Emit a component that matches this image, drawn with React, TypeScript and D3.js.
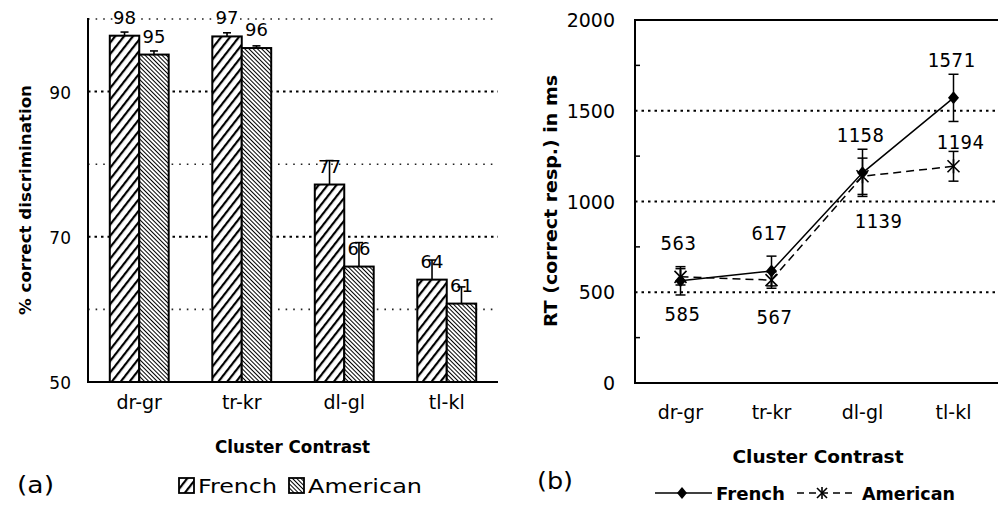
import React from 'react';
import * as d3 from 'd3';

const categories = ['dr-gr', 'tr-kr', 'dl-gl', 'tl-kl'];
const groups = ['French', 'American'];

// Panel (a): % correct discrimination
const accFrench = [97.7, 97.6, 77.2, 64.1];
const accAmerican = [95.1, 96.0, 65.9, 60.8];
const accFrenchErr = [0.5, 0.5, 3.3, 2.7];
const accAmericanErr = [0.5, 0.3, 3.3, 2.3];
const accFrenchLabels = ['98', '97', '77', '64'];
const accAmericanLabels = ['95', '96', '66', '61'];
const accGrid = [60, 70, 80, 90, 100];
const accDarkGrid = [70, 90];
const accTickLabels = [50, 70, 90];

// Panel (b): RT in ms
const rtFrench = [563, 617, 1158, 1571];
const rtAmerican = [585, 567, 1139, 1194];
const rtFrenchErr = [78, 82, 130, 130];
const rtAmericanErr = [45, 45, 100, 82];
const rtFrenchLabels = ['563', '617', '1158', '1571'];
const rtAmericanLabels = ['585', '567', '1139', '1194'];
const rtTicks = [0, 500, 1000, 1500, 2000];
const rtGrid = [500, 1000, 1500];
const rtMinor = [250, 750, 1250, 1750];

const SANS = 'DejaVu Sans, Verdana, sans-serif';
const MONO = 'DejaVu Sans Mono, monospace';

function Diamond({ x, y, w = 5.5, h = 6.5 }: { x: number; y: number; w?: number; h?: number }) {
  return <path d={`M${x},${y - h}L${x + w},${y}L${x},${y + h}L${x - w},${y}Z`} fill="#000" />;
}

function Star({ x, y, s = 6 }: { x: number; y: number; s?: number }) {
  return (
    <g stroke="#000" strokeWidth={1.6}>
      <line x1={x - s} y1={y - s} x2={x + s} y2={y + s} />
      <line x1={x - s} y1={y + s} x2={x + s} y2={y - s} />
      <line x1={x} y1={y - s - 1} x2={x} y2={y + s + 1} />
    </g>
  );
}

export default function App() {
  // ---------- Panel (a) ----------
  const yL = d3.scaleLinear().domain([50, 100]).range([382, 19]);
  const xL = d3.scaleBand().domain(categories).range([88, 498]);
  const xSub = d3.scaleBand().domain(groups).range([0, xL.bandwidth()]).paddingOuter(0.74);
  const bw = xSub.bandwidth();

  // ---------- Panel (b) ----------
  const yR = d3.scaleLinear().domain([0, 2000]).range([383, 20]);
  const xR = d3.scalePoint().domain(categories).range([635, 999]).padding(0.5);
  const line = d3
    .line<number>()
    .x((_, i) => xR(categories[i]) as number)
    .y((d) => yR(d));

  const barData = categories.map((c, i) => [
    { g: 'French', v: accFrench[i], e: accFrenchErr[i], lab: accFrenchLabels[i], fill: 'url(#hatchF)' },
    { g: 'American', v: accAmerican[i], e: accAmericanErr[i], lab: accAmericanLabels[i], fill: 'url(#hatchA)' },
  ]);

  return (
    <svg
      width={998}
      height={508}
      style={{ position: 'absolute', left: 0, top: 0, background: '#fff' }}
      fontFamily={SANS}
    >
      <defs>
        <pattern id="hatchF" patternUnits="userSpaceOnUse" width={7} height={7} patternTransform="rotate(38)">
          <rect width={7} height={7} fill="#fff" />
          <line x1={1} y1={0} x2={1} y2={7} stroke="#000" strokeWidth={2.4} />
        </pattern>
        <pattern id="hatchA" patternUnits="userSpaceOnUse" width={3} height={3} patternTransform="rotate(-45)">
          <rect width={3} height={3} fill="#fff" />
          <line x1={0.5} y1={0} x2={0.5} y2={3} stroke="#000" strokeWidth={1} />
        </pattern>
      </defs>

      {/* ===== Panel (a) ===== */}
      {accGrid.map((t) => {
        const dark = accDarkGrid.includes(t);
        return (
          <line
            key={'lg' + t}
            x1={88}
            x2={498}
            y1={yL(t)}
            y2={yL(t)}
            stroke={dark ? '#000' : '#222'}
            strokeWidth={dark ? 2 : 1.6}
            strokeDasharray={dark ? '2.5,4' : '1.6,6'}
          />
        );
      })}
      {accTickLabels.map((t) => (
        <text key={'lt' + t} x={71} y={yL(t) + 7} fontSize={17} textAnchor="end">
          {t}
        </text>
      ))}
      {barData.map((pair, i) =>
        pair.map((b) => {
          const x = (xL(categories[i]) as number) + (xSub(b.g) as number);
          const cx = x + bw / 2;
          return (
            <g key={categories[i] + b.g}>
              <rect x={x} y={yL(b.v)} width={bw} height={yL(50) - yL(b.v)} fill={b.fill} stroke="#000" strokeWidth={2} />
              <line x1={cx} x2={cx} y1={yL(b.v)} y2={yL(b.v + b.e)} stroke="#000" strokeWidth={1.6} />
              <line x1={cx - 4} x2={cx + 4} y1={yL(b.v + b.e)} y2={yL(b.v + b.e)} stroke="#000" strokeWidth={1.6} />
              <text x={cx} y={yL(b.v) - 12} fontSize={18} textAnchor="middle">
                {b.lab}
              </text>
            </g>
          );
        })
      )}
      <line x1={88} x2={88} y1={18} y2={383} stroke="#000" strokeWidth={2} />
      <line x1={87} x2={498} y1={382} y2={382} stroke="#000" strokeWidth={2} />
      {categories.map((c) => (
        <text key={'lx' + c} x={(xL(c) as number) + xL.bandwidth() / 2} y={409} fontSize={19} textAnchor="middle">
          {c}
        </text>
      ))}
      <text
        transform="translate(31,200) rotate(-90)"
        fontSize={16}
        fontWeight="bold"
        textAnchor="middle"
        textLength={230}
        lengthAdjust="spacingAndGlyphs"
      >
        % correct discrimination
      </text>
      <text x={292.5} y={453} fontSize={17} fontWeight="bold" textAnchor="middle" textLength={155} lengthAdjust="spacingAndGlyphs">
        Cluster Contrast
      </text>
      <text x={17} y={493} fontSize={23} textLength={37} lengthAdjust="spacingAndGlyphs">
        (a)
      </text>
      {/* legend (a) */}
      <rect x={179} y={478} width={15} height={15} fill="url(#hatchF)" stroke="#000" strokeWidth={1.8} />
      <text x={198} y={493} fontSize={20} textLength={79} lengthAdjust="spacingAndGlyphs">
        French
      </text>
      <rect x={289} y={478} width={15} height={15} fill="url(#hatchA)" stroke="#000" strokeWidth={1.8} />
      <text x={308} y={493} fontSize={20} textLength={114} lengthAdjust="spacingAndGlyphs">
        American
      </text>

      {/* ===== Panel (b) ===== */}
      {rtGrid.map((t) => (
        <line
          key={'rg' + t}
          x1={635}
          x2={998}
          y1={yR(t)}
          y2={yR(t)}
          stroke="#000"
          strokeWidth={2}
          strokeDasharray="2.5,4"
        />
      ))}
      {rtMinor.map((t) => (
        <line key={'rm' + t} x1={635} x2={640} y1={yR(t)} y2={yR(t)} stroke="#000" strokeWidth={1.5} />
      ))}
      {rtTicks.map((t) => (
        <text key={'rt' + t} x={615} y={yR(t) + 7} fontSize={19} textAnchor="end">
          {t}
        </text>
      ))}
      <line x1={635} x2={635} y1={19} y2={384} stroke="#000" strokeWidth={2} />
      <line x1={634} x2={998} y1={383} y2={383} stroke="#000" strokeWidth={2} />
      <line x1={634} x2={998} y1={20} y2={20} stroke="#000" strokeWidth={2} />

      <path d={line(rtAmerican) as string} fill="none" stroke="#000" strokeWidth={1.5} strokeDasharray="8,5" />
      <path d={line(rtFrench) as string} fill="none" stroke="#000" strokeWidth={1.5} />
      {categories.map((c, i) => {
        const x = xR(c) as number;
        const ef = [yR(rtFrench[i] + rtFrenchErr[i]), yR(rtFrench[i] - rtFrenchErr[i])];
        const ea = [yR(rtAmerican[i] + rtAmericanErr[i]), yR(rtAmerican[i] - rtAmericanErr[i])];
        return (
          <g key={'re' + c} stroke="#000" strokeWidth={1.5}>
            <line x1={x} x2={x} y1={ea[0]} y2={ea[1]} />
            <line x1={x - 5} x2={x + 5} y1={ea[0]} y2={ea[0]} />
            <line x1={x - 5} x2={x + 5} y1={ea[1]} y2={ea[1]} />
            <line x1={x} x2={x} y1={ef[0]} y2={ef[1]} />
            <line x1={x - 5} x2={x + 5} y1={ef[0]} y2={ef[0]} />
            <line x1={x - 5} x2={x + 5} y1={ef[1]} y2={ef[1]} />
          </g>
        );
      })}
      {categories.map((c, i) => (
        <Star key={'rs' + c} x={xR(c) as number} y={yR(rtAmerican[i])} />
      ))}
      {categories.map((c, i) => (
        <Diamond key={'rd' + c} x={xR(c) as number} y={yR(rtFrench[i])} />
      ))}
      {categories.map((c, i) => (
        <text key={'rlf' + c} x={(xR(c) as number) - 2} y={yR(rtFrench[i]) - 31} fontSize={19} fontFamily={MONO} textAnchor="middle" letterSpacing={0.5}>
          {rtFrenchLabels[i]}
        </text>
      ))}
      {categories.map((c, i) => {
        const above = i === 3;
        const dx = i === 2 ? 16 : i === 3 ? 7 : i === 1 ? 3 : 2;
        return (
          <text
            key={'rla' + c}
            x={(xR(c) as number) + dx}
            y={above ? yR(rtAmerican[i]) - 17 : yR(rtAmerican[i]) + 44 + (i === 2 ? 8 : 0)}
            fontSize={19}
            fontFamily={MONO}
            textAnchor="middle"
            letterSpacing={0.5}
          >
            {rtAmericanLabels[i]}
          </text>
        );
      })}
      {categories.map((c) => (
        <text key={'rx' + c} x={xR(c) as number} y={419} fontSize={19} textAnchor="middle">
          {c}
        </text>
      ))}
      <text
        transform="translate(557,201) rotate(-90)"
        fontSize={17}
        fontWeight="bold"
        textAnchor="middle"
        textLength={252}
        lengthAdjust="spacingAndGlyphs"
      >
        RT (correct resp.) in ms
      </text>
      <text x={818} y={463} fontSize={18} fontWeight="bold" textAnchor="middle" textLength={171} lengthAdjust="spacingAndGlyphs">
        Cluster Contrast
      </text>
      <text x={537} y={489} fontSize={23} textLength={36} lengthAdjust="spacingAndGlyphs">
        (b)
      </text>
      {/* legend (b) */}
      <line x1={655} x2={712} y1={493} y2={493} stroke="#000" strokeWidth={1.5} />
      <Diamond x={682} y={493} w={5} h={6} />
      <text x={716} y={500} fontSize={18} fontWeight="bold" textLength={69} lengthAdjust="spacingAndGlyphs">
        French
      </text>
      <line x1={797} x2={856} y1={493} y2={493} stroke="#000" strokeWidth={1.5} strokeDasharray="7,5" />
      <Star x={822} y={493} s={5} />
      <text x={862} y={500} fontSize={18} fontWeight="bold" textLength={93} lengthAdjust="spacingAndGlyphs">
        American
      </text>
    </svg>
  );
}
